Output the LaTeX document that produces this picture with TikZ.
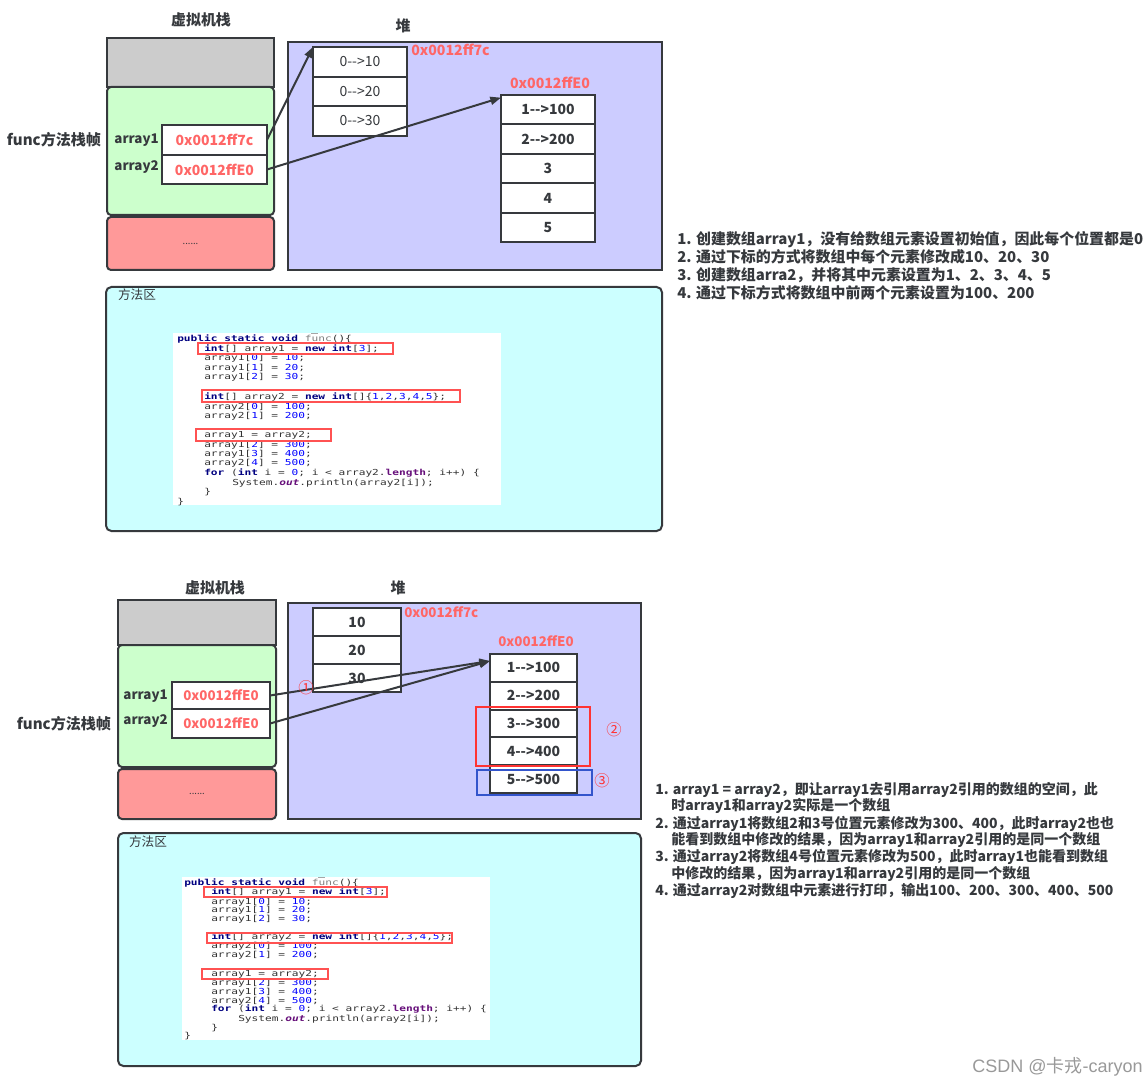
\documentclass[tikz,border=0pt]{standalone}
\usepackage{fontspec}
\setmainfont{Noto Sans CJK SC}
\newfontfamily\codefont[FakeStretch=1.35]{DejaVu Sans Mono}
\newfontfamily\wmlatin{Liberation Sans}
\usetikzlibrary{arrows.meta,fit}
\definecolor{dk}{HTML}{36393D}
\definecolor{stgray}{HTML}{CCCCCC}
\definecolor{stgreen}{HTML}{CCFFCC}
\definecolor{stred}{HTML}{FF9999}
\definecolor{heapc}{HTML}{CCCCFF}
\definecolor{methc}{HTML}{CCFFFF}
\definecolor{addrc}{HTML}{FF6666}
\definecolor{hlred}{HTML}{FF3333}
\definecolor{hlblue}{HTML}{3355CC}
\definecolor{kwc}{HTML}{000080}
\definecolor{numc}{HTML}{0000FF}
\definecolor{fldc}{HTML}{660E7A}
\newcommand\ckw[1]{\textcolor{kwc}{\bfseries #1}}
\newcommand\cnum[1]{\textcolor{numc}{#1}}
\newcommand\cfld[1]{\textcolor{fldc}{\bfseries #1}}
\newcommand\cLa{\ckw{public static void} \textcolor{gray}{func}()\{}
\newcommand\cLb{\ckw{int}[] array1 = \ckw{new} \ckw{int}[\cnum{3}];}
\newcommand\cLc{array1[\cnum{0}] = \cnum{10};}
\newcommand\cLd{array1[\cnum{1}] = \cnum{20};}
\newcommand\cLe{array1[\cnum{2}] = \cnum{30};}
\newcommand\cLf{\ckw{int}[] array2 = \ckw{new} \ckw{int}[]\{\cnum{1},\cnum{2},\cnum{3},\cnum{4},\cnum{5}\};}
\newcommand\cLg{array2[\cnum{0}] = \cnum{100};}
\newcommand\cLh{array2[\cnum{1}] = \cnum{200};}
\newcommand\cLi{array1 = array2;}
\newcommand\cLj{array1[\cnum{2}] = \cnum{300};}
\newcommand\cLk{array1[\cnum{3}] = \cnum{400};}
\newcommand\cLl{array2[\cnum{4}] = \cnum{500};}
\newcommand\cLm{\ckw{for} (\ckw{int} i = \cnum{0}; i < array2.\cfld{length}; i++) \{}
\newcommand\cLn{System.\textit{\cfld{out}}.println(array2[i]);}
\newcommand\cLo{\}}
\begin{document}
\begin{tikzpicture}[x=0.75pt,y=-0.75pt,
  box/.style={draw=dk, line width=1.5pt, inner sep=0pt, outer sep=0pt},
  cell/.style={box, fill=white},
  celltxt/.style={inner sep=0pt, text=dk, font=\fontsize{10.5}{11}\selectfont},
  bcelltxt/.style={inner sep=0pt, text=dk, font=\bfseries\fontsize{10.5}{11}\selectfont},
  addrin/.style={inner sep=0pt, text=addrc, font=\bfseries\fontsize{10.5}{11}\selectfont},
  addrinb/.style={inner sep=0pt, text=addrc, font=\bfseries\fontsize{10}{11}\selectfont},
  dotstxt/.style={inner sep=0pt, text=dk, font=\fontsize{7}{8}\selectfont},
  addrtxt/.style={inner sep=0pt, text=addrc, font=\bfseries\fontsize{10.6}{11}\selectfont},
  addrtxtb/.style={inner sep=0pt, text=addrc, font=\bfseries\fontsize{10}{11}\selectfont},
  lbl/.style={inner sep=0pt, text=dk, font=\bfseries\fontsize{10}{11}\selectfont},
  flbl/.style={inner sep=0pt, text=dk, font=\bfseries\fontsize{11.3}{12}\selectfont},
  ttl/.style={inner sep=0pt, text=dk, font=\bfseries\fontsize{11.2}{12}\selectfont},
  mlbl/.style={inner sep=0pt, text=dk, font=\fontsize{9.5}{10}\selectfont},
  note/.style={anchor=west, inner sep=0pt, text=dk, font=\bfseries\fontsize{10.5}{12}\selectfont},
  notetop/.style={note, font=\bfseries\fontsize{11.2}{12}\selectfont},
  code/.style={anchor=base west, inner sep=0pt, text=black!80, font=\codefont\fontsize{6.2}{7}\selectfont},
  codebox/.style={draw=hlred!85, line width=0.9pt, inner sep=0pt},
  arr/.style={draw=dk, line width=1.5pt, -{Triangle[length=8pt,width=6pt]}},
  circ/.style={inner sep=0pt, text=hlred, font=\fontsize{11.5}{12}\selectfont}
]
\useasboundingbox (0,0) rectangle (1148,1087);
\fill[white] (0,0) rectangle (1148,1087);

% ================= TOP =================
\node[ttl] (t1stack) at (201,20) {虚拟机栈};
\node[ttl] (t1heap) at (403,26) {堆};
\node[box, fill=stgray, fit={(107,38)(274,87)}] (s1gray) {};
\node[box, fill=stgreen, rounded corners=3pt, fit={(107,87)(274,215)}] (s1green) {};
\node[box, fill=stred, rounded corners=3pt, fit={(107,217)(274,270)}, label={[dotstxt]center:......}] (s1red) {};
\node[box, fill=white, fit={(162,125)(267,155)}, label={[addrin]center:0x0012ff7c}] (a1t) {};
\node[box, fill=white, fit={(162,155)(267,184)}, label={[addrin]center:0x0012ffE0}] (a2t) {};
\node[lbl, anchor=east] (l1a) at (159,140) {array1};
\node[lbl, anchor=east] (l1b) at (159,167) {array2};
\node[flbl] (f1) at (54,140) {func方法栈帧};

\node[box, fill=heapc, fit={(288,42)(662,270)}] (heap1) {};
\node[cell, fit={(313,47)(407,77)}, label={[celltxt]center:{0-{}->10}}] (h1a) {};
\node[cell, fit={(313,77)(407,106)}, label={[celltxt]center:{0-{}->20}}] (h1b) {};
\node[cell, fit={(313,106)(407,136)}, label={[celltxt]center:{0-{}->30}}] (h1c) {};
\node[addrtxt, anchor=west] (ad1a) at (411,50) {0x0012ff7c};
\node[addrtxt] (ad1b) at (550,83) {0x0012ffE0};
\node[cell, fit={(501,95)(595,124.5)}, label={[bcelltxt]center:{1-{}->100}}] (h2a) {};
\node[cell, fit={(501,124.5)(595,154)}, label={[bcelltxt]center:{2-{}->200}}] (h2b) {};
\node[cell, fit={(501,154)(595,183.5)}, label={[bcelltxt]center:3}] (h2c) {};
\node[cell, fit={(501,183.5)(595,213)}, label={[bcelltxt]center:4}] (h2d) {};
\node[cell, fit={(501,213)(595,242)}, label={[bcelltxt]center:5}] (h2e) {};
\draw[arr] (a1t.east) -- (h1a.north west);
\draw[arr] (a2t.east) -- ([yshift=-2pt]h2a.north west);

\node[box, fill=methc, rounded corners=4pt, fit={(106,287)(662,531)}] (m1) {};
\node[mlbl] (m1l) at (137,295) {方法区};
\node[fill=white, inner sep=0pt, fit={(173,333)(501,505)}] (cb1) {};
\draw[gray!70, line width=0.5pt] (311,333.5) -- (318,333.5);
\node[code] at (177,341.7) {\cLa};
\node[code] at (204,351.7) {\cLb};
\node[code] at (204,360.7) {\cLc};
\node[code] at (204,370.7) {\cLd};
\node[code] at (204,379.7) {\cLe};
\node[code] at (204,399.7) {\cLf};
\node[code] at (204,409.7) {\cLg};
\node[code] at (204,418.7) {\cLh};
\node[code] at (204,437.7) {\cLi};
\node[code] at (204,447.7) {\cLj};
\node[code] at (204,456.7) {\cLk};
\node[code] at (204,465.7) {\cLl};
\node[code] at (204,475.7) {\cLm};
\node[code] at (232,485.7) {\cLn};
\node[code] at (204,494.7) {\cLo};
\node[code] at (177,504.7) {\cLo};
\node[codebox, fit={(198,343)(393,354)}] (cb1a) {};
\node[codebox, fit={(202,390)(460,402)}] (cb1b) {};
\node[codebox, fit={(196,429)(331,441)}] (cb1c) {};

\node[notetop] (n1a) at (677,240) {1. 创建数组array1，没有给数组元素设置初始值，因此每个位置都是0};
\node[notetop] (n1b) at (677,257) {2. 通过下标的方式将数组中每个元素修改成10、20、30};
\node[notetop] (n1c) at (677,275) {3. 创建数组arra2，并将其中元素设置为1、2、3、4、5};
\node[notetop] (n1d) at (677,293) {4. 通过下标方式将数组中前两个元素设置为100、200};

% ================= BOTTOM =================
\node[ttl] (t2stack) at (215,588) {虚拟机栈};
\node[ttl] (t2heap) at (398,588) {堆};
\node[box, fill=stgray, fit={(118,600)(276,645)}] (s2gray) {};
\node[box, fill=stgreen, rounded corners=3pt, fit={(118,645)(276,767)}] (s2green) {};
\node[box, fill=stred, rounded corners=3pt, fit={(118,769)(276,819)}, label={[dotstxt]center:......}] (s2red) {};
\node[box, fill=white, fit={(172,682)(270,709)}, label={[addrinb]center:0x0012ffE0}] (a1b) {};
\node[box, fill=white, fit={(172,709)(270,738)}, label={[addrinb]center:0x0012ffE0}] (a2b) {};
\node[lbl, anchor=east] (l2a) at (168,696) {array1};
\node[lbl, anchor=east] (l2b) at (168,721) {array2};
\node[flbl] (f2) at (64,724) {func方法栈帧};

\node[box, fill=heapc, fit={(288,603)(641,819)}] (heap2) {};
\node[cell, fit={(313,608)(401,636)}, label={[bcelltxt]center:10}] (b1a) {};
\node[cell, fit={(313,636)(401,664)}, label={[bcelltxt]center:20}] (b1b) {};
\node[cell, fit={(313,664)(401,692)}, label={[bcelltxt]center:30}] (b1c) {};
\node[addrtxtb, anchor=west] (ad2a) at (404,612) {0x0012ff7c};
\node[addrtxtb] (ad2b) at (536,641) {0x0012ffE0};
\node[cell, fit={(490,654)(577,681.8)}, label={[bcelltxt]center:{1-{}->100}}] (b2a) {};
\node[cell, fit={(490,681.8)(577,709.6)}, label={[bcelltxt]center:{2-{}->200}}] (b2b) {};
\node[cell, fit={(490,709.6)(577,737.4)}, label={[bcelltxt]center:{3-{}->300}}] (b2c) {};
\node[cell, fit={(490,737.4)(577,765.2)}, label={[bcelltxt]center:{4-{}->400}}] (b2d) {};
\node[cell, fit={(490,765.2)(577,793)}, label={[bcelltxt]center:{5-{}->500}}] (b2e) {};
\node[draw=hlred, line width=1.5pt, inner sep=0pt, fit={(476,707)(590,766)}] (hlr) {};
\node[draw=hlblue, line width=1.5pt, inner sep=0pt, fit={(477,770)(592,795)}] (hlb) {};
\coordinate (tip2) at (490,661);
\draw[arr] (a1b.east) -- (tip2);
\draw[arr] (a2b.east) -- (tip2);
\node[circ] (c1) at (306,688) {①};
\node[circ] (c2) at (614,730) {②};
\node[circ] (c3) at (602,781) {③};

\node[box, fill=methc, rounded corners=4pt, fit={(118,833)(641,1066)}] (m2) {};
\node[mlbl] (m2l) at (148,842) {方法区};
\node[fill=white, inner sep=0pt, fit={(182,877)(490,1040)}] (cb2) {};
\draw[gray!70, line width=0.5pt] (318,877.5) -- (325,877.5);
\node[code] at (184,885.7) {\cLa};
\node[code] at (211,894.7) {\cLb};
\node[code] at (211,904.7) {\cLc};
\node[code] at (211,912.7) {\cLd};
\node[code] at (211,921.7) {\cLe};
\node[code] at (211,939.7) {\cLf};
\node[code] at (211,948.7) {\cLg};
\node[code] at (211,957.7) {\cLh};
\node[code] at (211,976.7) {\cLi};
\node[code] at (211,985.7) {\cLj};
\node[code] at (211,994.7) {\cLk};
\node[code] at (211,1003.7) {\cLl};
\node[code] at (211,1011.7) {\cLm};
\node[code] at (238,1021.7) {\cLn};
\node[code] at (211,1030.7) {\cLo};
\node[code] at (184,1038.7) {\cLo};
\node[codebox, fit={(204,887)(387,897)}] (cb2a) {};
\node[codebox, fit={(207,933)(452,943)}] (cb2b) {};
\node[codebox, fit={(202,969)(328,979)}] (cb2c) {};

\node[note] (n2a) at (655,790) {1. array1 = array2，即让array1去引用array2引用的数组的空间，此};
\node[note] (n2b) at (671,806) {时array1和array2实际是一个数组};
\node[note] (n2c) at (655,824) {2. 通过array1将数组2和3号位置元素修改为300、400，此时array2也也};
\node[note] (n2d) at (671,840) {能看到数组中修改的结果，因为array1和array2引用的是同一个数组};
\node[note] (n2e) at (655,857) {3. 通过array2将数组4号位置元素修改为500，此时array1也能看到数组};
\node[note] (n2f) at (671,874) {中修改的结果，因为array1和array2引用的是同一个数组};
\node[note] (n2g) at (655,891) {4. 通过array2对数组中元素进行打印，输出100、200、300、400、500};

\node[anchor=east, inner sep=0pt, text=black!40, font=\fontsize{13.5}{14}\selectfont] (wm) at (1143,1067) {\wmlatin CSDN @\normalfont 卡戎\wmlatin -caryon};
\end{tikzpicture}
\end{document}
